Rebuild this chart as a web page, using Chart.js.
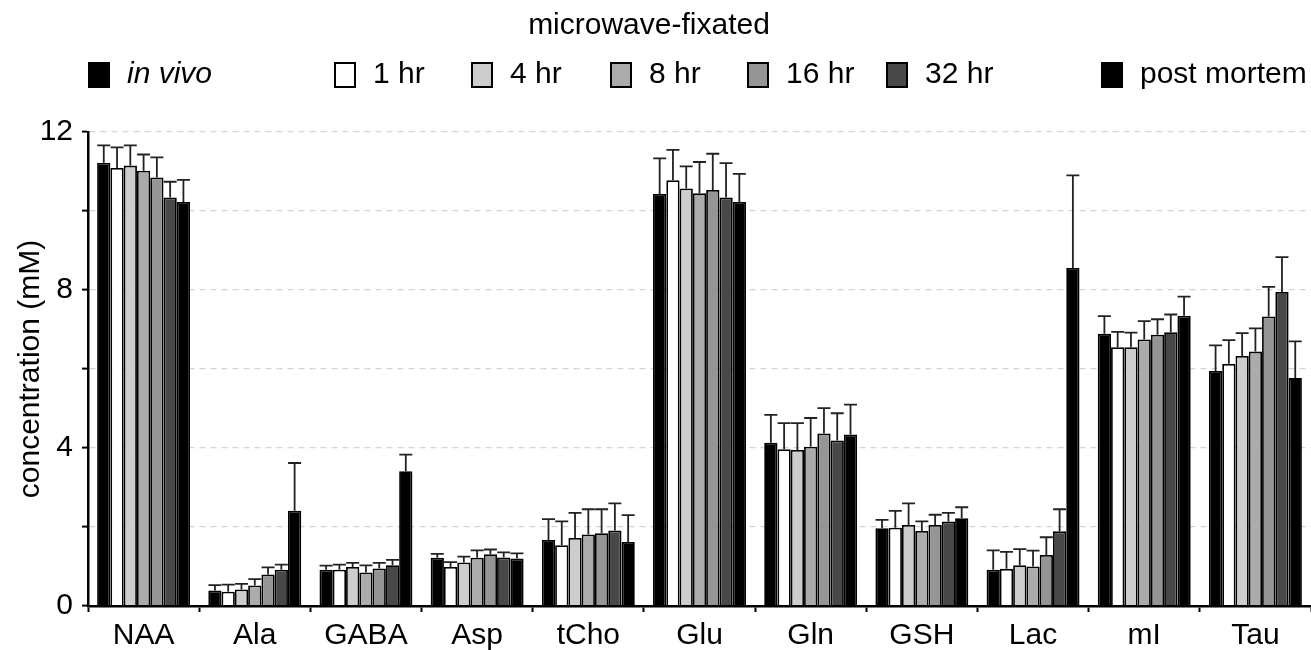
<!DOCTYPE html>
<html><head><meta charset="utf-8">
<script src="https://cdn.jsdelivr.net/npm/chart.js@4.4.0/dist/chart.umd.min.js"></script>
<style>html,body{margin:0;padding:0;background:#fff;}#wrap{width:1311px;height:650px;}</style>
</head><body><div id="wrap"><canvas id="c" width="1311" height="650"></canvas></div>
<script>
const categories = ['NAA','Ala','GABA','Asp','tCho','Glu','Gln','GSH','Lac','mI','Tau'];
const seriesNames = ['in vivo','1 hr','4 hr','8 hr','16 hr','32 hr','post mortem'];

const inVivo = [11.22, 0.39, 0.92, 1.22, 1.67, 10.43, 4.13, 1.97, 0.92, 6.89, 5.95];
const h1     = [11.09, 0.36, 0.92, 0.99, 1.54, 10.78, 3.97, 1.98, 0.94, 6.55, 6.13];
const h4     = [11.15, 0.42, 0.99, 1.10, 1.72, 10.57, 3.95, 2.05, 1.03, 6.55, 6.33];
const h8     = [11.02, 0.52, 0.85, 1.22, 1.81, 10.45, 4.03, 1.90, 1.00, 6.75, 6.44];
const h16    = [10.85, 0.80, 0.95, 1.31, 1.84, 10.53, 4.37, 2.05, 1.29, 6.87, 7.33];
const h32    = [10.34, 0.92, 1.03, 1.23, 1.91, 10.34, 4.19, 2.14, 1.89, 6.93, 7.95];
const pm     = [10.23, 2.41, 3.41, 1.20, 1.62, 10.23, 4.34, 2.22, 8.56, 7.35, 5.77];

const inVivoSD = [0.44, 0.14, 0.10, 0.10, 0.53, 0.90, 0.71, 0.21, 0.49, 0.45, 0.65];
const h1SD     = [0.52, 0.18, 0.13, 0.12, 0.60, 0.77, 0.66, 0.43, 0.43, 0.39, 0.60];
const h4SD     = [0.51, 0.14, 0.10, 0.15, 0.64, 0.56, 0.68, 0.55, 0.41, 0.37, 0.58];
const h8SD     = [0.41, 0.16, 0.18, 0.19, 0.64, 0.79, 0.73, 0.24, 0.40, 0.46, 0.59];
const h16SD    = [0.51, 0.18, 0.14, 0.12, 0.61, 0.92, 0.64, 0.26, 0.45, 0.39, 0.75];
const h32SD    = [0.40, 0.13, 0.14, 0.13, 0.69, 0.87, 0.69, 0.22, 0.56, 0.45, 0.88];
const pmSD     = [0.56, 1.21, 0.42, 0.13, 0.68, 0.71, 0.76, 0.28, 2.34, 0.48, 0.93];

const yTickLabels = [0, 4, 8, 12];

const seriesValues = [inVivo, h1, h4, h8, h16, h32, pm];
const seriesSD = [inVivoSD, h1SD, h4SD, h8SD, h16SD, h32SD, pmSD];
const colors = ['#000000','#ffffff','#cdcdcd','#ababab','#959595','#484848','#000000'];
const FONT = "'Liberation Sans', Arial, Helvetica, sans-serif";

const errorBars = {
  id: 'errorBars',
  afterDatasetsDraw(chart) {
    const ctx = chart.ctx, y = chart.scales.y;
    chart.data.datasets.forEach((ds, i) => {
      const meta = chart.getDatasetMeta(i);
      meta.data.forEach((bar, j) => {
        const top = y.getPixelForValue(ds.data[j] + ds.sd[j]);
        ctx.save();
        ctx.strokeStyle = '#222';
        ctx.lineWidth = 1.8;
        ctx.beginPath();
        ctx.moveTo(bar.x, bar.y);
        ctx.lineTo(bar.x, top);
        ctx.moveTo(bar.x - 6.5, top);
        ctx.lineTo(bar.x + 6.5, top);
        ctx.stroke();
        ctx.restore();
      });
    });
  }
};

const legendPos = [88, 334, 471, 610, 747, 886, 1101];
const customLegend = {
  id: 'customLegend',
  afterDraw(chart) {
    const ctx = chart.ctx;
    ctx.save();
    ctx.fillStyle = '#000';
    ctx.textBaseline = 'middle';
    ctx.textAlign = 'center';
    ctx.font = '30px ' + FONT;
    ctx.fillText('microwave-fixated', 649, 26);
    ctx.textAlign = 'left';
    seriesNames.forEach((name, i) => {
      const x = legendPos[i];
      ctx.fillStyle = colors[i];
      ctx.fillRect(x, 62, 22, 26);
      ctx.strokeStyle = '#000';
      ctx.lineWidth = 2;
      ctx.strokeRect(x + 1, 63, 20, 24);
      ctx.fillStyle = '#000';
      ctx.font = (i === 0 ? 'italic ' : '') + '30px ' + FONT;
      ctx.fillText(name, x + 39, 75);
    });
    ctx.restore();
  }
};

new Chart(document.getElementById('c'), {
  type: 'bar',
  data: {
    labels: categories,
    datasets: seriesNames.map((n, i) => ({
      label: n,
      data: seriesValues[i],
      sd: seriesSD[i],
      backgroundColor: colors[i],
      borderColor: '#000',
      borderWidth: 1.8,
      barPercentage: 1.0,
      categoryPercentage: 0.836
    }))
  },
  options: {
    responsive: false,
    animation: false,
    layout: { padding: { top: 132, right: 0, left: 0, bottom: 0 } },
    plugins: { legend: { display: false }, tooltip: { enabled: false }, title: { display: false } },
    scales: {
      x: {
        grid: { offset: true, drawOnChartArea: false, drawTicks: true, tickLength: 6, tickColor: '#000', tickWidth: 2 },
        border: { display: true, color: '#000', width: 2.5, z: 1 },
        ticks: { color: '#000', font: { family: FONT, size: 30 }, padding: 6, maxRotation: 0, autoSkip: false },
        afterFit(s) { s.height = 44; }
      },
      y: {
        min: 0, max: 12,
        grid: {
          color: (c) => (c.tick && c.tick.value === 0) ? 'rgba(0,0,0,0)' : '#d4d4d4',
          lineWidth: 1.2, tickColor: '#000', tickWidth: 2, tickLength: 6, drawTicks: true
        },
        border: { display: true, color: '#000', width: 2.5, dash: [6, 5], z: 0 },
        ticks: {
          stepSize: 2, color: '#000', padding: 9,
          font: { family: FONT, size: 30 },
          callback: (v) => yTickLabels.includes(v) ? String(v) : ''
        },
        title: { display: true, text: 'concentration (mM)', color: '#000', font: { family: FONT, size: 30 }, padding: { top: 13, bottom: 0 } },
        afterFit(s) { s.width = 88; }
      }
    }
  },
  plugins: [errorBars, customLegend]
});
</script></body></html>
